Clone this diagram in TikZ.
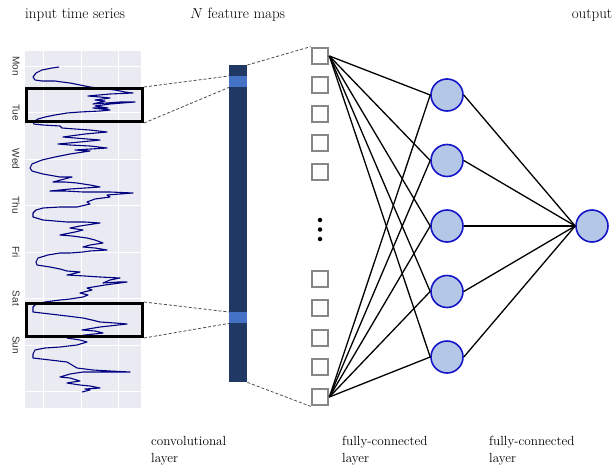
\documentclass[tikz,border=0pt]{standalone}
\usepackage{fontspec}
\newfontfamily\axisfont{Liberation Sans}
\definecolor{plotbg}{HTML}{EAEAF2}
\definecolor{seriesblue}{HTML}{000080}
\definecolor{colnavy}{HTML}{203864}
\definecolor{bandblue}{HTML}{4472C4}
\definecolor{neuronfill}{HTML}{B4C7E7}
\definecolor{neuronedge}{RGB}{20,20,200}
\definecolor{ticktext}{HTML}{333333}
\begin{document}
\begin{tikzpicture}[x=1pt,y=-1pt,
  toplabel/.style={font=\fontsize{15}{18}\selectfont, inner sep=0pt},
  layerlabel/.style={font=\fontsize{13.2}{17}\selectfont, align=left, anchor=north west, inner sep=0pt},
  ticklabel/.style={font=\axisfont\fontsize{10}{12}\selectfont, text=ticktext, rotate=-90, inner sep=0pt},
  window/.style={draw=black, line width=3pt, inner sep=0pt, anchor=north west},
  zoomline/.style={draw=black!70, dashed, dash pattern=on 3pt off 2pt, line width=0.8pt},
  unitbox/.style={draw=black!47, line width=2.2pt, fill=white, minimum size=16.5pt, inner sep=0pt},
  neuron/.style={circle, draw=neuronedge, line width=1.6pt, fill=neuronfill, minimum size=32pt, inner sep=0pt},
  link/.style={draw=black, line width=1.3pt},
  gridline/.style={draw=white, line width=1pt}]
\useasboundingbox (0,0) rectangle (614,469);

% titles
\node[toplabel, anchor=west] (tin) at (25,15) {input time series};
\node[toplabel, anchor=west] (tmaps) at (190,15) {$N$ feature maps};
\node[toplabel] (tout) at (592,15) {output};

% time series panel
\node[fill=plotbg, inner sep=0pt, minimum width=116pt, minimum height=357pt, anchor=north west] (panel) at (25,51) {};
\foreach \gx in {43,81,118} \draw[gridline] (\gx,51) -- (\gx,408);
\foreach \gy in {66,112.5,159,205.5,252,298.5,345,391.5} \draw[gridline] (25,\gy) -- (141,\gy);
\foreach \d/\gy in {Mon/66,Tue/112.5,Wed/159,Thu/205.5,Fri/252,Sat/298.5,Sun/345}
  \node[ticklabel] at (16,\gy) {\d};

\draw[seriesblue, line width=1.1pt, line join=round] plot coordinates {
 (59,67) (52,68) (42,70) (36,73) (33,77) (35,80) (42,81) (55,81) (62,82) (70,83) (80,85) (90,87) (98,88) (106,89) (115,90) (125,92) (133,93) (110,94) (88,96) (100,97) (110,98) (95,100) (105,101) (93,104) (120,102) (135,102) (110,104) (95,106) (108,108) (93,108) (110,110) (100,111) (80,112) (67,113) (55,115) (45,117) (38,119) (33,122) (34,124)
 (43,125) (60,126) (62,128) (75,129) (90,130) (107,132) (85,134) (63,137) (75,138) (100,140) (80,142) (58,144) (70,145) (90,146) (107,148) (75,150) (90,151) (70,154) (55,157) (42,160) (32,164) (30,168) (32,171)
 (43,174) (60,177) (72,177) (53,182) (65,182) (77,183) (90,185) (100,187) (70,189) (50,191) (65,191) (83,192) (110,192) (133,193) (107,195) (110,197) (95,199) (87,202) (90,204) (77,207) (60,207) (43,208) (36,210) (33,213) (33,217)
 (43,220) (67,222) (85,222) (100,223) (80,226) (70,228) (83,230) (75,232) (60,235) (72,236) (87,238) (95,240) (103,243) (90,245) (83,247) (95,248) (107,250) (90,251) (83,252) (70,253) (60,253) (48,255) (38,258) (36,262) (37,265)
 (50,267) (60,269) (67,271) (80,272) (72,274) (67,275) (85,276) (100,277) (120,278) (110,280) (103,283) (118,282) (127,282) (105,285) (87,288) (92,290) (80,293) (88,295) (83,297) (70,299) (60,300) (45,302) (36,304) (33,307) (33,312)
 (50,314) (67,316) (75,317) (83,318) (92,320) (100,322) (115,323) (127,324) (100,327) (82,330) (95,331) (103,333) (85,335) (67,338) (80,340) (87,342) (77,345) (60,347) (45,348) (35,350) (33,354) (33,358)
 (50,360) (67,362) (72,365) (77,368) (85,369) (93,370) (110,371) (130,372) (105,372) (83,372) (70,374) (60,377) (70,378) (80,381) (73,382) (67,383) (80,385) (90,386) (100,388) (85,389) (90,390) (82,392)
};

% convolution windows
\node[window, minimum width=116pt, minimum height=33pt] (w1) at (25,87) {};
\node[window, minimum width=116pt, minimum height=33pt] (w2) at (25,302) {};

% feature map column
\node[fill=colnavy, inner sep=0pt, minimum width=18pt, minimum height=317pt, anchor=north west] (col) at (229,65) {};
\node[fill=bandblue, inner sep=0pt, minimum width=18pt, minimum height=11pt, anchor=north west] (b1) at (229,76) {};
\node[fill=bandblue, inner sep=0pt, minimum width=18pt, minimum height=11pt, anchor=north west] (b2) at (229,312) {};

% flattened units
\foreach \i/\uy in {1/56,2/85,3/114,4/143,5/172,6/279,7/308,8/338,9/367,10/397}
  \node[unitbox] (s\i) at (320,\uy) {};
\foreach \i/\dy in {1/220,2/229.5,3/239}
  \node[circle, fill=black, minimum size=4.5pt, inner sep=0pt] (dot\i) at (320,\dy) {};

% zoom guides
\draw[zoomline] (w1.north east) -- (b1.north west);
\draw[zoomline] (w1.south east) -- (b1.south west);
\draw[zoomline] (w2.north east) -- (b2.north west);
\draw[zoomline] (w2.south east) -- (b2.south west);
\draw[zoomline] (col.north east) -- (s1.north west);
\draw[zoomline] (col.south east) -- (s10.south west);

% hidden and output neurons
\foreach \i/\hy in {1/95,2/160.5,3/226,4/291.5,5/357}
  \node[neuron] (h\i) at (447,\hy) {};
\node[neuron] (o) at (592,226) {};

\foreach \i in {1,...,5} {
  \draw[link] (s1.east) -- (h\i.west);
  \draw[link] (s10.east) -- (h\i.west);
  \draw[link] (h\i.east) -- (o.west);
}

% layer captions
\node[layerlabel] (lconv) at (151,436) {convolutional\\layer};
\node[layerlabel] (lfc1) at (342,436) {fully-connected\\layer};
\node[layerlabel] (lfc2) at (489,436) {fully-connected\\layer};
\end{tikzpicture}
\end{document}
